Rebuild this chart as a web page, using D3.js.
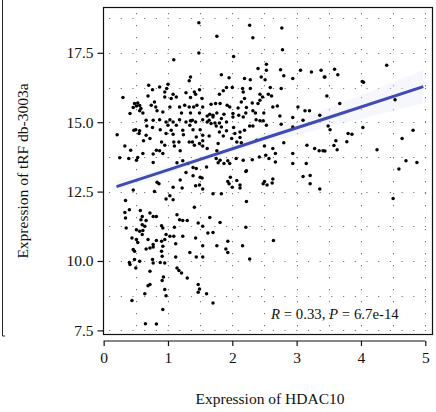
<!DOCTYPE html>
<html>
<head>
<meta charset="utf-8">
<script src="https://cdn.jsdelivr.net/npm/d3@7"></script>
<style>
  body { margin: 0; background: #fff; }
  svg { display: block; font-family: "Liberation Serif", "DejaVu Serif", serif; }
</style>
</head>
<body>
<div id="chart"></div>
<script>
// expression values (HDAC10 on x, tRF db-3003a on y)
const hdac10 = [
  1.48, 1.48, 1.09, 1.35, 1.33, 0.70, 1.00, 0.76, 0.87, 0.95, 0.98, 1.08, 1.28, 1.41, 1.49,
  0.30, 0.69, 0.79, 0.95, 1.05, 1.13, 1.35, 1.43, 1.53, 0.48, 0.51, 0.53, 0.56, 0.46, 0.58,
  0.41, 0.74, 0.81, 0.83, 1.03, 1.18, 1.26, 1.33, 1.40, 1.45, 1.54, 1.67, 0.56, 0.61, 0.92,
  1.21, 1.35, 1.49, 1.61, 1.65, 1.70, 0.66, 0.77, 0.87, 0.97, 1.03, 1.08, 1.18, 1.28, 1.35,
  1.38, 1.43, 1.54, 1.61, 1.64, 1.67, 1.00, 1.13, 1.34, 0.67, 0.76, 0.47, 0.50, 0.56, 0.88,
  1.05, 1.23, 1.39, 1.50, 0.21, 0.55, 0.66, 0.97, 1.08, 1.24, 1.44, 1.54, 1.64, 0.72, 0.62,
  0.90, 1.09, 1.17, 1.33, 1.38, 1.49, 1.54, 0.33, 0.95, 1.10, 1.19, 1.41, 1.54, 1.61, 0.42,
  0.82, 0.87, 0.61, 0.77, 0.92, 0.25, 0.39, 0.51, 0.53, 0.77, 1.23, 1.39, 1.44, 1.60, 1.31,
  1.14,
  2.27, 2.77, 1.76, 2.32, 2.78, 2.02, 2.53, 2.40, 2.53, 2.75, 3.06, 3.23, 3.38, 1.83, 1.95,
  2.19, 2.28, 2.45, 2.51, 2.80, 2.94, 3.43, 1.91, 2.00, 2.16, 2.28, 2.59, 2.76, 1.86, 1.80,
  2.17, 2.43, 2.47, 2.56, 2.61, 2.19, 2.43, 2.14, 2.31, 1.74, 1.81, 1.92, 1.96, 2.09, 2.22,
  2.40, 2.63, 2.70, 3.02, 3.13, 3.20, 1.76, 1.87, 2.01, 2.10, 2.21, 2.32, 2.36, 2.49, 1.70,
  1.83, 2.01, 2.17, 2.74, 2.94, 3.36, 1.73, 1.80, 1.91, 2.37, 2.43, 2.48, 3.10, 1.75, 1.83,
  2.02, 2.27, 2.32, 2.53, 2.76, 2.94, 1.80, 1.91, 2.04, 2.12, 2.19, 1.86, 1.99, 2.12, 2.07,
  2.14, 1.78, 2.38, 2.80, 3.16, 3.28, 3.35, 3.41, 2.50, 2.63, 1.76, 2.67, 2.94, 1.75, 1.81,
  1.78, 1.93, 2.06, 2.31, 2.42, 2.52, 2.57, 1.87, 1.96, 2.17, 2.67, 2.94, 3.15, 2.22,
  4.40, 3.59, 3.64, 3.44, 4.02, 4.04, 3.47, 3.67, 4.53, 3.49, 3.52, 4.03, 4.81, 3.80, 3.86,
  4.64, 3.61, 3.78, 3.58, 3.63, 3.44, 4.25, 4.70, 4.59, 4.50, 4.87,
  1.28, 1.39, 1.50, 1.53, 1.19, 0.83, 0.86, 1.43, 1.49, 1.08, 1.22, 1.54, 0.46, 0.79, 1.70,
  1.03, 0.97, 1.08, 0.34, 1.41, 0.40, 0.57, 0.33, 0.72, 0.77, 0.82, 0.60, 0.34, 0.58, 0.66,
  1.14, 1.18, 1.23, 1.30, 1.47, 1.65, 0.60, 0.64, 0.90, 0.92, 0.35, 0.51, 0.56, 0.61, 1.10,
  1.54, 1.62, 1.03, 1.09, 1.23, 1.43, 0.97, 0.44, 0.60, 0.51, 0.69, 0.82, 0.90, 0.95, 0.53,
  1.12, 0.77, 0.66, 0.72, 0.77, 0.92, 0.46, 0.48, 1.54, 0.90, 1.34, 0.91, 1.44, 1.54, 0.40,
  0.48, 0.56, 0.76, 0.77, 0.88, 0.95, 1.12, 0.41, 0.50, 1.14, 1.17, 1.21, 0.72, 1.30, 0.93,
  0.91, 0.72, 0.69, 1.47, 1.49, 0.95, 0.64, 0.97, 1.47, 1.60, 0.44, 0.92, 1.70, 0.65, 0.82,
  2.21, 1.97, 2.07, 1.93, 1.95, 2.12, 2.00, 2.12, 2.48, 2.54, 2.50, 2.62, 2.63, 3.10, 3.21,
  3.21, 3.36, 1.83, 2.22, 1.81, 2.21, 1.70, 2.64, 1.93, 1.76, 2.16, 1.90, 1.93, 2.27
];
const trfDb3003a = [
  18.58, 17.49, 17.25, 16.63, 16.49, 16.33, 16.37, 16.17, 16.27, 16.09, 16.21, 16.01, 16.06, 16.09, 16.17,
  15.89, 15.94, 15.73, 15.91, 15.85, 15.91, 15.89, 16.01, 15.85, 15.67, 15.58, 15.69, 15.60, 15.53, 15.49,
  15.31, 15.61, 15.55, 15.41, 15.55, 15.55, 15.61, 15.55, 15.55, 15.61, 15.55, 15.65, 15.41, 15.33, 15.37,
  15.33, 15.33, 15.33, 15.22, 15.29, 15.25, 15.07, 15.07, 15.09, 15.01, 15.09, 15.01, 15.09, 15.01, 15.05,
  15.07, 15.01, 15.09, 15.01, 15.07, 14.95, 14.89, 14.89, 14.89, 14.86, 14.81, 14.71, 14.73, 14.69, 14.73,
  14.71, 14.71, 14.73, 14.73, 14.55, 14.59, 14.53, 14.59, 14.57, 14.55, 14.47, 14.53, 14.50, 14.41, 14.33,
  14.29, 14.29, 14.29, 14.29, 14.29, 14.23, 14.33, 14.14, 14.17, 14.14, 13.97, 14.17, 14.14, 14.05, 13.99,
  13.99, 13.97, 13.87, 13.85, 13.87, 13.72, 13.69, 13.63, 13.73, 13.55, 13.61, 13.37, 13.33, 13.39, 13.51,
  13.54,
  18.49, 18.39, 18.10, 18.04, 17.61, 17.37, 17.09, 16.93, 16.87, 16.89, 16.87, 16.81, 16.87, 16.71, 16.60,
  16.57, 16.53, 16.63, 16.53, 16.67, 16.57, 16.63, 16.25, 16.25, 16.21, 16.21, 16.25, 16.21, 16.13, 16.01,
  16.09, 16.01, 15.91, 16.01, 15.94, 15.85, 15.79, 15.73, 15.69, 15.67, 15.67, 15.61, 15.55, 15.51, 15.53,
  15.67, 15.55, 15.58, 15.55, 15.41, 15.41, 15.33, 15.29, 15.31, 15.25, 15.33, 15.41, 15.33, 15.33, 15.19,
  15.13, 15.19, 15.19, 15.22, 15.17, 15.25, 14.97, 14.97, 15.01, 15.09, 15.05, 15.05, 15.07, 14.86, 14.83,
  14.81, 14.86, 14.86, 14.89, 14.93, 14.83, 14.65, 14.69, 14.59, 14.65, 14.71, 14.50, 14.41, 14.45, 14.29,
  14.26, 14.23, 14.35, 14.26, 14.17, 14.05, 13.97, 13.97, 14.14, 14.05, 13.97, 13.87, 13.87, 13.69, 13.63,
  13.54, 13.61, 13.69, 13.65, 13.75, 13.81, 13.69, 13.51, 13.51, 13.63, 13.57, 13.51, 13.51, 13.25,
  17.05, 16.91, 16.71, 16.63, 16.47, 16.44, 15.94, 15.67, 15.81, 14.86, 14.73, 14.81, 14.71, 14.59, 14.57,
  14.41, 14.33, 14.30, 14.16, 14.01, 13.96, 14.01, 13.61, 13.31, 12.25, 13.55,
  13.19, 13.07, 13.02, 12.99, 12.92, 12.84, 12.78, 12.71, 12.74, 12.66, 12.63, 12.59, 12.56, 12.50, 12.42,
  12.35, 12.23, 12.21, 12.18, 11.94, 11.85, 11.82, 11.75, 11.73, 11.60, 11.60, 11.60, 11.55, 11.49, 11.46,
  11.67, 11.49, 11.46, 11.46, 11.37, 11.57, 11.31, 11.25, 11.27, 11.19, 11.19, 11.13, 11.07, 11.10, 11.22,
  11.25, 11.01, 10.89, 10.89, 10.89, 10.83, 10.95, 10.83, 10.95, 10.77, 10.77, 10.74, 10.71, 10.77, 10.67,
  10.62, 10.59, 10.43, 10.47, 10.50, 10.53, 10.41, 10.35, 10.55, 10.35, 10.31, 10.17, 10.14, 10.14, 9.95,
  10.05, 9.99, 10.05, 9.93, 9.95, 9.93, 10.14, 9.87, 9.75, 9.75, 9.66, 9.57, 9.63, 9.39, 9.42,
  9.30, 9.15, 9.11, 9.15, 8.99, 8.97, 8.82, 8.75, 8.87, 8.82, 8.58, 8.25, 8.49, 7.74, 7.73,
  13.22, 13.02, 12.90, 12.86, 12.78, 12.74, 12.66, 12.63, 12.78, 12.74, 12.86, 12.81, 12.95, 13.04, 13.08,
  12.78, 12.59, 12.42, 12.14, 11.39, 11.22, 11.03, 10.74, 10.71, 10.55, 10.55, 10.43, 10.31, 10.07
];

// fitted line and its confidence band
const fitX = [0.2, 0.8, 1.5, 2.5, 3.5, 4.97];
const fitY = [12.68, 13.13, 13.66, 14.42, 15.17, 16.28];
const fitLo = [12.46, 12.99, 13.56, 14.24, 14.83, 15.68];
const fitHi = [12.90, 13.27, 13.76, 14.60, 15.51, 16.88];

const xTicks = [0, 1, 2, 3, 4, 5];
const yTicks = [7.5, 10.0, 12.5, 15.0, 17.5];
const xGrid = [0.5, 1, 1.5, 2, 2.5, 3, 3.5, 4, 4.5, 5];
const yGrid = [7.5, 8.75, 10, 11.25, 12.5, 13.75, 15, 16.25, 17.5, 18.75];

const W = 436, H = 412;
const plot = { left: 103, right: 433, top: 7, bottom: 334 };

const svg = d3.select("#chart").append("svg")
    .attr("width", W)
    .attr("height", H);

const x = d3.scaleLinear().domain([-0.01, 5.12]).range([plot.left, plot.right]);
const y = d3.scaleLinear().domain([7.37, 19.15]).range([plot.bottom, plot.top]);

// left panel edge from the original figure
svg.append("path")
    .attr("d", `M2.5,0 V336 H5`)
    .attr("fill", "none")
    .attr("stroke", "#222")
    .attr("stroke-width", 1);

// dotted grid
svg.append("g").selectAll("line")
    .data(yGrid)
    .join("line")
    .attr("x1", plot.left + 6).attr("x2", plot.right)
    .attr("y1", d => Math.round(y(d)) + 0.5).attr("y2", d => Math.round(y(d)) + 0.5)
    .attr("stroke", "#777")
    .attr("stroke-width", 1.1)
    .attr("stroke-dasharray", "1.2,10.5");

svg.append("g").selectAll("line")
    .data(xGrid)
    .join("line")
    .attr("x1", d => Math.round(x(d)) + 0.5).attr("x2", d => Math.round(x(d)) + 0.5)
    .attr("y1", plot.top + 6).attr("y2", plot.bottom)
    .attr("stroke", "#777")
    .attr("stroke-width", 1.1)
    .attr("stroke-dasharray", "1.2,10.8");

// confidence band
const fit = fitX.map((d, i) => ({ x: d, y: fitY[i], lo: fitLo[i], hi: fitHi[i] }));
svg.append("path")
    .datum(fit)
    .attr("fill", "#e6ecf8")
    .attr("fill-opacity", 0.4)
    .attr("d", d3.area().curve(d3.curveMonotoneX)
        .x(d => x(d.x)).y0(d => y(d.lo)).y1(d => y(d.hi)));

// points
const pts = hdac10.map((d, i) => ({ x: d, y: trfDb3003a[i] }));
svg.append("g").selectAll("circle")
    .data(pts)
    .join("circle")
    .attr("cx", d => x(d.x))
    .attr("cy", d => y(d.y))
    .attr("r", 1.75)
    .attr("fill", "#000");

// regression line
svg.append("path")
    .datum(fit)
    .attr("fill", "none")
    .attr("stroke", "#4149b4")
    .attr("stroke-width", 3)
    .attr("d", d3.line().x(d => x(d.x)).y(d => y(d.y)));

// frame
svg.append("rect")
    .attr("x", plot.left + 0.5).attr("y", plot.top + 0.5)
    .attr("width", plot.right - plot.left - 1).attr("height", plot.bottom - plot.top)
    .attr("fill", "none")
    .attr("stroke", "#111")
    .attr("stroke-width", 1.2);

// y axis (ticks on the frame)
const yAxis = svg.append("g")
    .attr("transform", `translate(${plot.left + 0.5},0)`)
    .call(d3.axisLeft(y).tickValues(yTicks).tickFormat(d3.format(".1f")).tickSize(6).tickPadding(4));
yAxis.select(".domain").remove();
yAxis.selectAll("line").attr("stroke", "#111").attr("stroke-width", 1.2);
yAxis.selectAll("text").attr("font-family", "Liberation Serif").attr("font-size", 15.5).attr("fill", "#111");

// x axis, offset below the frame
const xAxis = svg.append("g")
    .attr("transform", `translate(0,${plot.bottom + 7})`)
    .call(d3.axisBottom(x).tickValues(xTicks).tickFormat(d3.format("d")).tickSize(5).tickSizeOuter(0).tickPadding(6));
xAxis.select(".domain")
    .attr("d", `M${x(0)},0H${x(5)}`)
    .attr("stroke", "#111").attr("stroke-width", 1.2);
xAxis.selectAll("line").attr("stroke", "#111").attr("stroke-width", 1.2);
xAxis.selectAll("text").attr("font-family", "Liberation Serif").attr("font-size", 15.5).attr("fill", "#111");

// axis titles
svg.append("text")
    .attr("x", 270)
    .attr("y", 404)
    .attr("text-anchor", "middle")
    .style("font-size", "15.5px")
    .attr("fill", "#111")
    .text("Expression of HDAC10");

svg.append("text")
    .attr("transform", `translate(28,171) rotate(-90)`)
    .attr("text-anchor", "middle")
    .style("font-size", "15.5px")
    .attr("fill", "#111")
    .text("Expression of tRF db-3003a");

// correlation label
const note = svg.append("text")
    .attr("x", 271)
    .attr("y", 319)
    .style("font-size", "14.8px")
    .attr("fill", "#111");
note.append("tspan").style("font-style", "italic").text("R");
note.append("tspan").text(" = 0.33, ");
note.append("tspan").style("font-style", "italic").text("P");
note.append("tspan").text(" = 6.7e-14");
</script>
</body>
</html>
